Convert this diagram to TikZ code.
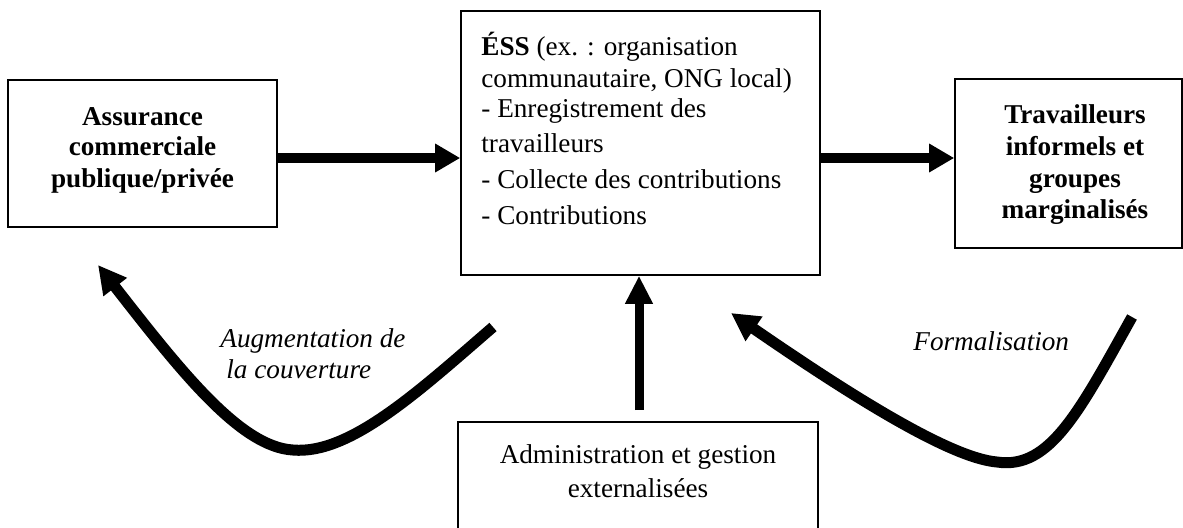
\documentclass[tikz,border=0pt]{standalone}
\usepackage{fontspec}
\setmainfont{Liberation Serif}
\usetikzlibrary{arrows.meta}
\begin{document}
\begin{tikzpicture}[x=0.5pt,y=-0.5pt,
  box/.style={draw, line width=0.8pt, inner sep=0pt, fill=white},
  txt/.style={inner sep=0pt, font=\fontsize{13.6pt}{16pt}\selectfont},
  btxt/.style={inner sep=0pt, font=\fontsize{13.6pt}{16pt}\selectfont\bfseries},
  itxt/.style={inner sep=0pt, font=\fontsize{13.6pt}{16pt}\selectfont\itshape},
  harrow/.style={line width=5pt, -{Triangle[length=12.5pt,width=13.5pt]}},
  varrow/.style={line width=4.5pt, -{Triangle[length=14pt,width=13pt]}},
  carrow/.style={line width=5.5pt, -{Triangle[length=14pt,width=14pt]}}]
\clip (0,0) rectangle (1183,527);
\fill[white] (0,0) rectangle (1183,527);

% boxes
\node[box, minimum width=134.5pt, minimum height=73.5pt] (L) at (142.5,153.5) {};
\node[box, minimum width=179.5pt, minimum height=132pt] (E) at (640.5,143) {};
\node[box, minimum width=113.5pt, minimum height=84.5pt] (R) at (1068.5,163.5) {};
\node[box, minimum width=180pt, minimum height=59pt] (B) at (638,481) {};

% left box text
\node[btxt, anchor=base] (l1) at (142.5,125) {Assurance};
\node[btxt, anchor=base] (l2) at (142.5,155) {commerciale};
\node[btxt, anchor=base] (l3) at (142.5,187) {publique/privée};

% ESS text
\node[txt, anchor=base west] (e1) at (481,55) {\textbf{ÉSS} (ex. : organisation};
\node[txt, anchor=base west] (e2) at (481,87) {communautaire, ONG local)};
\node[txt, anchor=base west] (e3) at (481,117) {- Enregistrement des};
\node[txt, anchor=base west] (e4) at (481,152) {travailleurs};
\node[txt, anchor=base west] (e5) at (481,188) {- Collecte des contributions};
\node[txt, anchor=base west] (e6) at (481,224) {- Contributions};

% right box text
\node[btxt, anchor=base] (r1) at (1075,123) {Travailleurs};
\node[btxt, anchor=base] (r2) at (1075,155) {informels et};
\node[btxt, anchor=base] (r3) at (1075,187) {groupes};
\node[btxt, anchor=base] (r4) at (1075,218) {marginalisés};

% bottom box text
\node[txt, anchor=base] (b1) at (638,463) {Administration et gestion};
\node[txt, anchor=base] (b2) at (638,497) {externalisées};

% labels
\node[itxt, anchor=base west] (g1) at (220,347) {Augmentation de};
\node[itxt, anchor=base west] (g2) at (226,378) {la couverture};
\node[itxt, anchor=base west] (f1) at (913,350) {Formalisation};

% straight arrows
\coordinate (hy) at (0,158);
\draw[harrow] (L.east |- hy) -- (E.west |- hy);
\draw[harrow] (E.east |- hy) -- (R.west |- hy);
\coordinate (vb) at (639,410);
\draw[varrow] (vb) -- (vb |- E.south);

% curved arrows
\coordinate (cls) at (493,327);
\coordinate (cle) at (98,265);
\draw[carrow] (cls) .. controls (420,390) and (350,455) .. (293,450)
  .. controls (240,447) and (180,370) .. (cle);
\coordinate (crs) at (1132,317);
\coordinate (cre) at (731,313);
\draw[carrow] (crs) .. controls (1080,410) and (1050,470) .. (997,462)
  .. controls (950,458) and (850,395) .. (cre);
\end{tikzpicture}
\end{document}
